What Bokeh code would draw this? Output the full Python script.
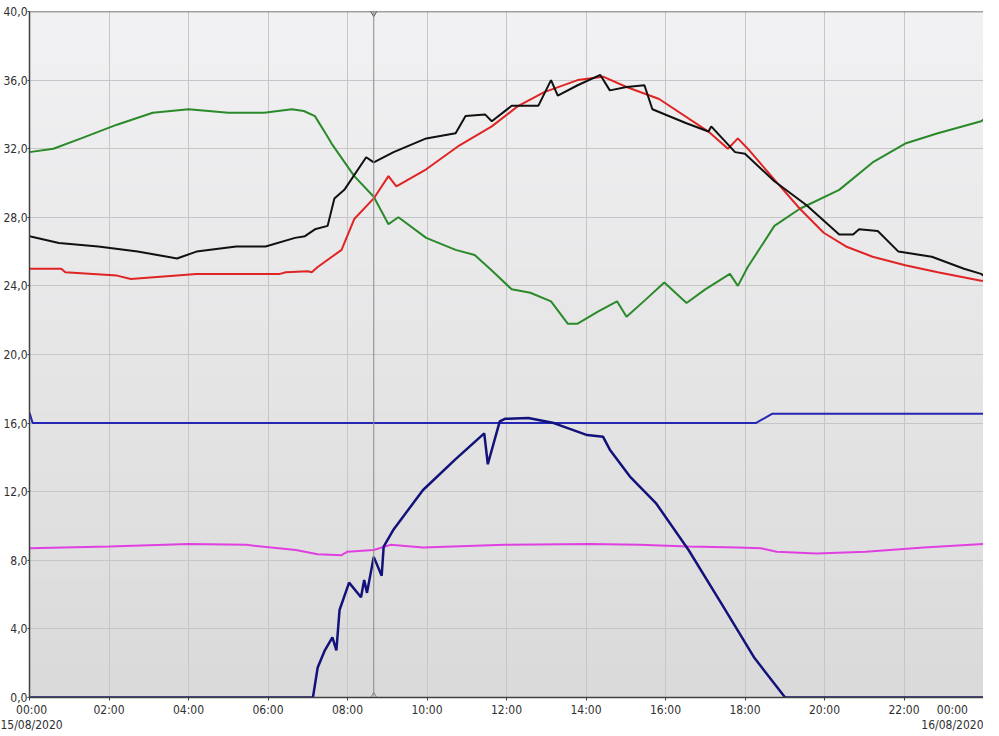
import numpy as np
from bokeh.plotting import figure
from bokeh.models import Span, FixedTicker, Range1d
from bokeh.embed import file_html
from bokeh.resources import INLINE

# ---- data: hours since 00:00 15/08/2020 ----
green_h = [0.0, 0.6, 1.3, 2.2, 3.1, 4.0, 5.0, 5.9, 6.6, 6.9, 7.18, 7.5, 7.6, 8.17, 8.66, 9.03, 9.28,
           9.98, 10.72, 11.2, 11.63, 12.13, 12.6, 13.12, 13.54, 13.79, 14.3, 14.78, 15.02, 15.5,
           15.97, 16.53, 17.0, 17.62, 17.82, 18.07, 18.74, 19.38, 20.37, 21.21, 22.03, 22.85, 23.94, 24.0]
green_v = [31.8, 32.0, 32.6, 33.4, 34.1, 34.3, 34.1, 34.1, 34.3, 34.2, 33.9, 32.7, 32.3, 30.4, 29.2, 27.6, 28.0,
           26.8, 26.1, 25.8, 24.9, 23.8, 23.6, 23.1, 21.8, 21.8, 22.5, 23.1, 22.2, 23.2,
           24.2, 23.0, 23.8, 24.7, 24.0, 25.1, 27.5, 28.5, 29.6, 31.2, 32.3, 32.9, 33.6, 33.7]

black_h = [0.0, 0.74, 1.73, 2.72, 3.47, 3.71, 4.2, 5.2, 5.94, 6.68, 6.93, 7.18, 7.5, 7.67, 7.92, 8.47, 8.66,
           9.16, 9.98, 10.72, 10.97, 11.46, 11.63, 12.13, 12.8, 13.12, 13.29, 13.79, 14.36, 14.6, 15.02,
           15.47, 15.67, 16.51, 17.08, 17.15, 17.75, 18.0, 18.74, 19.55, 20.37, 20.72, 20.87, 21.34,
           21.86, 22.7, 23.51, 23.94, 24.0]
black_v = [26.9, 26.5, 26.3, 26.0, 25.7, 25.6, 26.0, 26.3, 26.3, 26.8, 26.9, 27.3, 27.5, 29.1, 29.6, 31.5, 31.2,
           31.8, 32.6, 32.9, 33.9, 34.0, 33.6, 34.5, 34.5, 36.0, 35.1, 35.7, 36.3, 35.4, 35.6,
           35.7, 34.3, 33.5, 33.0, 33.3, 31.8, 31.7, 30.1, 28.7, 27.0, 27.0, 27.3, 27.2,
           26.0, 25.7, 25.0, 24.7, 24.6]

red_h = [0.0, 0.8, 0.9, 2.2, 2.55, 4.2, 6.3, 6.45, 7.0, 7.1, 7.25, 7.85, 8.17, 8.66, 9.03, 9.23, 9.98,
         10.82, 11.63, 12.3, 12.95, 13.79, 14.43, 15.02, 15.84, 17.08, 17.57, 17.82, 18.07, 18.74,
         19.38, 19.98, 20.54, 21.21, 22.03, 22.85, 23.94, 24.0]
red_v = [25.0, 25.0, 24.8, 24.6, 24.4, 24.7, 24.7, 24.8, 24.85, 24.8, 25.1, 26.1, 27.9, 29.1, 30.4, 29.8, 30.8,
         32.2, 33.3, 34.5, 35.3, 36.0, 36.2, 35.6, 34.9, 33.0, 32.0, 32.6, 32.0, 30.2,
         28.5, 27.1, 26.3, 25.7, 25.2, 24.8, 24.3, 24.3]

setpoint_h = [0.0, 0.08, 18.27, 18.69, 24.0]
setpoint_v = [16.6, 16.0, 16.0, 16.55, 16.55]

navy_h = [0.0, 7.13, 7.25, 7.43, 7.62, 7.72, 7.8, 8.04, 8.34, 8.42, 8.49, 8.66, 8.86, 8.91, 9.16, 9.9,
          10.72, 11.44, 11.53, 11.83, 11.96, 12.55, 13.19, 14.03, 14.43, 14.6, 15.1, 15.77, 16.58,
          17.4, 18.24, 19.01, 24.0]
navy_v = [0.0, 0.0, 1.75, 2.75, 3.5, 2.75, 5.1, 6.7, 5.85, 6.85, 6.1, 8.2, 7.1, 8.8, 9.8, 12.1,
          13.9, 15.4, 13.6, 16.1, 16.25, 16.3, 16.0, 15.3, 15.2, 14.45, 12.9, 11.3, 8.6,
          5.5, 2.3, 0.0, 0.0]

magenta_h = [0.0, 2.0, 4.0, 5.45, 6.7, 7.25, 7.85, 8.0, 8.66, 9.08, 9.9, 11.96, 14.1, 15.35, 16.58,
             17.82, 18.4, 18.8, 19.8, 21.04, 22.5, 24.0]
magenta_v = [8.7, 8.8, 8.95, 8.9, 8.6, 8.35, 8.3, 8.5, 8.6, 8.9, 8.75, 8.9, 8.95, 8.9, 8.8,
             8.75, 8.7, 8.5, 8.4, 8.5, 8.75, 8.95]

cursor_h = 8.66

x_ticks = [0, 2, 4, 6, 8, 10, 12, 14, 16, 18, 20, 22, 24]
x_tick_labels = ["00:00\n15/08/2020", "02:00", "04:00", "06:00", "08:00", "10:00", "12:00",
                 "14:00", "16:00", "18:00", "20:00", "22:00", "00:00\n16/08/2020"]
y_ticks = [0, 4, 8, 12, 16, 20, 24, 28, 32, 36, 40]
y_tick_labels = ["0,0", "4,0", "8,0", "12,0", "16,0", "20,0", "24,0", "28,0", "32,0", "36,0", "40,0"]

x_start, x_end = 0, 24
y_start, y_end = 0, 40

FONT = "'Liberation Sans Narrow', 'DejaVu Sans Condensed', sans-serif"

p = figure(width=983, height=734, x_range=Range1d(x_start, x_end), y_range=Range1d(y_start, y_end),
           output_backend="svg", toolbar_location=None,
           min_border_left=22, min_border_top=11, min_border_right=0, min_border_bottom=20)
p.border_fill_color = "white"
p.background_fill_color = "#e6e6e8"
p.outline_line_color = None

# vertical background gradient (light at top, grey at bottom)
n = 200
img = np.empty((n, 2), dtype=np.uint32)
view = img.view(dtype=np.uint8).reshape((n, 2, 4))
bot = np.array([0xDA, 0xDA, 0xDA])
top = np.array([0xF2, 0xF2, 0xF4])
for i in range(n):
    t = i / (n - 1)
    c = bot * (1 - t) + top * t
    view[i, :, 0] = int(c[0]); view[i, :, 1] = int(c[1]); view[i, :, 2] = int(c[2]); view[i, :, 3] = 255
p.image_rgba(image=[img], x=x_start, y=y_start, dw=x_end - x_start, dh=y_end - y_start, level="image")

# grids
for g in (p.xgrid, p.ygrid):
    g.grid_line_color = "#c6c6c6"
    g.grid_line_width = 1
p.xaxis.ticker = FixedTicker(ticks=x_ticks)
p.yaxis.ticker = FixedTicker(ticks=y_ticks)
p.xaxis.major_label_overrides = dict(zip(x_ticks, x_tick_labels))
p.yaxis.major_label_overrides = dict(zip(y_ticks, y_tick_labels))
for ax in (p.xaxis, p.yaxis):
    ax.axis_line_color = "#404040"
    ax.axis_line_width = 1.5
    ax.major_tick_line_color = "#404040"
    ax.major_tick_in = 0
    ax.major_tick_out = 3
    ax.minor_tick_line_color = None
    ax.major_label_text_font = FONT
    ax.major_label_text_font_size = "12px"
    ax.major_label_text_color = "#303030"
    ax.major_label_standoff = 2
p.xaxis.major_label_text_line_height = 1.1
p.yaxis.major_tick_out = 2
p.yaxis.major_label_standoff = 0

# top border
p.add_layout(Span(location=y_end, dimension="width", line_color="#505050", line_width=1.5))

# series
p.line(green_h, green_v, line_color="#2a8a2a", line_width=2)
p.line(red_h, red_v, line_color="#e02424", line_width=2)
p.line(black_h, black_v, line_color="#111111", line_width=2)
p.line(setpoint_h, setpoint_v, line_color="#2626b4", line_width=2)
p.line(magenta_h, magenta_v, line_color="#e040e0", line_width=2)
p.line(navy_h, navy_v, line_color="#12127a", line_width=2.5)

# cursor
p.add_layout(Span(location=cursor_h, dimension="height", line_color="#8a8a8a", line_width=1))
p.scatter([cursor_h], [y_end], marker="inverted_triangle", size=9, fill_color="#e0e0e0",
          line_color="#555555", line_width=1)
p.scatter([cursor_h], [y_start], marker="triangle", size=9, fill_color="#e0e0e0",
          line_color="#888888", line_width=1)

open("out.html", "w").write(file_html(p, INLINE))
